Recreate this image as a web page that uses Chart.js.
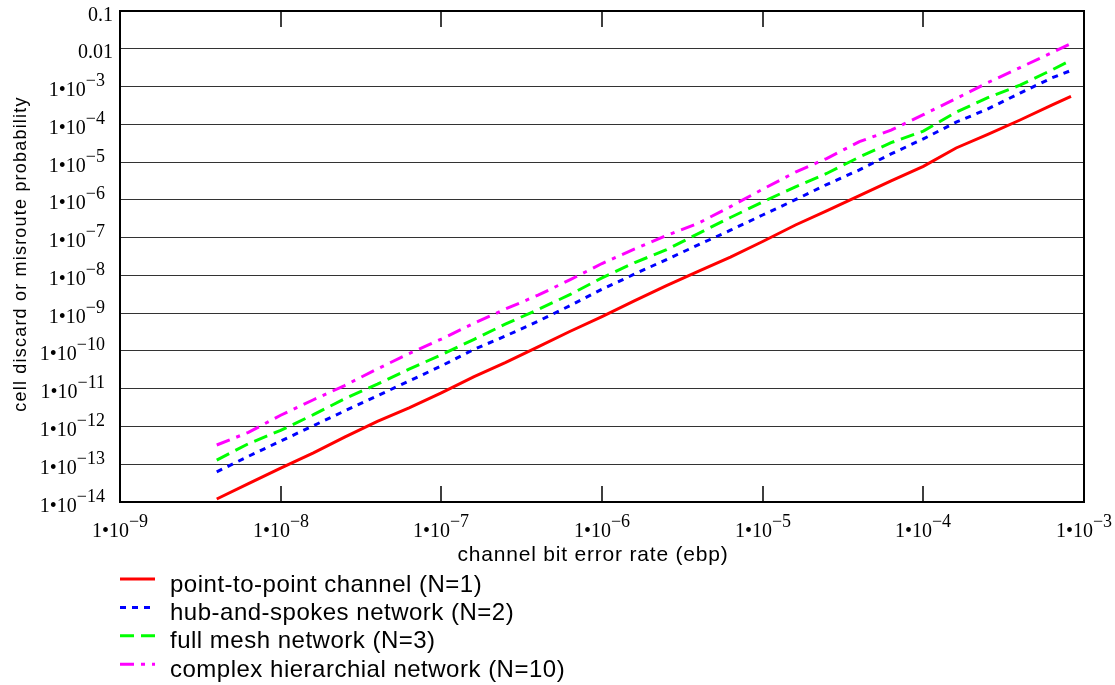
<!DOCTYPE html>
<html>
<head>
<meta charset="utf-8">
<script src="https://cdn.jsdelivr.net/npm/chart.js@4.4.1/dist/chart.umd.min.js"></script>
<style>
  html, body { margin: 0; padding: 0; background: #fff; }
</style>
</head>
<body>
<canvas id="c" width="1115" height="685"></canvas>
<script>
// channel bit error rate (x axis)
const ber = [4e-9, 6.3e-9, 1e-8, 1.6e-8, 2.5e-8, 4e-8, 6.3e-8, 1e-7, 1.6e-7, 2.5e-7,
             4e-7, 6.3e-7, 1e-6, 1.6e-6, 2.5e-6, 4e-6, 6.3e-6, 1e-5, 1.6e-5, 2.5e-5,
             4e-5, 6.3e-5, 1e-4, 1.6e-4, 2.5e-4, 4e-4, 6.3e-4, 8.3e-4];

// cell discard / misroute probability
const pointToPoint = [1.2e-14, 3.07e-14, 7.9e-14, 2.01e-13, 5.2e-13, 1.37e-12, 3.1e-12, 7.8e-12, 2.08e-11, 4.9e-11,
                      1.28e-10, 3.27e-10, 8.1e-10, 2.15e-9, 5.3e-9, 1.29e-8, 3.05e-8, 7.9e-8, 2.16e-7, 5.1e-7,
                      1.29e-6, 3.19e-6, 7.7e-6, 2.36e-5, 5.3e-5, 1.3e-4, 3.23e-4, 5.5e-4];
const hubSpokes = [6.3e-14, 1.62e-13, 4.1e-13, 1.05e-12, 2.57e-12, 6.5e-12, 1.6e-11, 4.0e-11, 1.1e-10, 2.47e-10,
                   6.1e-10, 1.57e-9, 4.3e-9, 1.09e-8, 2.59e-8, 6.5e-8, 1.57e-7, 3.97e-7, 1.01e-6, 2.54e-6,
                   6.2e-6, 1.65e-5, 4.1e-5, 1.14e-4, 2.51e-4, 6.7e-4, 1.69e-3, 2.66e-3];
const fullMesh = [1.29e-13, 3.5e-13, 7.9e-13, 2.05e-12, 5.4e-12, 1.32e-11, 3.3e-11, 7.9e-11, 2.03e-10, 5.1e-10,
                  1.25e-9, 3.08e-9, 8.6e-9, 2.19e-8, 4.7e-8, 1.3e-7, 3.41e-7, 8.8e-7, 2.22e-6, 4.99e-6,
                  1.36e-5, 3.26e-5, 6.6e-5, 2.09e-4, 5.0e-4, 1.09e-3, 2.74e-3, 4.98e-3];
const complexNet = [3.23e-13, 6.97e-13, 1.98e-12, 5.1e-12, 1.21e-11, 3.34e-11, 8.5e-11, 2.06e-10, 5.4e-10, 1.28e-9,
                    2.99e-9, 7.6e-9, 2.06e-8, 5.0e-8, 1.12e-7, 2.44e-7, 6.6e-7, 1.91e-6, 5.4e-6, 1.24e-5,
                    3.47e-5, 7.0e-5, 1.8e-4, 4.8e-4, 1.25e-3, 3.17e-3, 7.9e-3, 1.37e-2];

const seriesNames = ["point-to-point channel (N=1)", "hub-and-spokes network (N=2)",
                     "full mesh network (N=3)", "complex hierarchial network (N=10)"];

const xTicks = [1e-9, 1e-8, 1e-7, 1e-6, 1e-5, 1e-4, 1e-3];
const xTickLabels = [["1•10", "\u22129"], ["1•10", "\u22128"], ["1•10", "\u22127"], ["1•10", "\u22126"],
                     ["1•10", "\u22125"], ["1•10", "\u22124"], ["1•10", "\u22123"]];
const yTicks = [0.1, 0.01, 1e-3, 1e-4, 1e-5, 1e-6, 1e-7, 1e-8, 1e-9, 1e-10, 1e-11, 1e-12, 1e-13, 1e-14];
const yTickLabels = [["0.1", ""], ["0.01", ""], ["1•10", "\u22123"], ["1•10", "\u22124"], ["1•10", "\u22125"],
                     ["1•10", "\u22126"], ["1•10", "\u22127"], ["1•10", "\u22128"], ["1•10", "\u22129"],
                     ["1•10", "\u221210"], ["1•10", "\u221211"], ["1•10", "\u221212"], ["1•10", "\u221213"],
                     ["1•10", "\u221214"]];

const toPoints = arr => arr.map((v, i) => ({ x: ber[i], y: v }));

const SERIF = '"Liberation Serif", "Times New Roman", serif';
const SANS = '"Liberation Sans", Arial, sans-serif';

// label like 1•10^-5 : base text plus raised exponent
function drawPow(ctx, base, sup, x, y, align) {
  ctx.font = '20px ' + SERIF;
  const wb = ctx.measureText(base).width;
  ctx.font = '18px ' + SERIF;
  const ws = sup ? ctx.measureText(sup).width : 0;
  let x0 = x;
  if (align === 'center') x0 = x - (wb + ws) / 2;
  if (align === 'right') x0 = x - wb - ws;
  ctx.textAlign = 'left';
  ctx.textBaseline = 'alphabetic';
  ctx.font = '20px ' + SERIF;
  ctx.fillText(base, x0, y);
  if (sup) {
    ctx.font = '18px ' + SERIF;
    ctx.fillText(sup, x0 + wb, y - 10);
  }
}

const framePlugin = {
  id: 'framePlugin',
  afterDraw(chart) {
    const { ctx, chartArea: a } = chart;
    const xs = chart.scales.x, ys = chart.scales.y;
    ctx.save();
    ctx.fillStyle = '#000';

    // box
    ctx.strokeStyle = '#000';
    ctx.lineWidth = 2;
    ctx.strokeRect(a.left, a.top, a.right - a.left, a.bottom - a.top);

    // x tick marks, inside, top and bottom
    ctx.lineWidth = 1.5;
    xTicks.forEach((v, i) => {
      const px = Math.round(xs.getPixelForValue(v));
      if (i > 0 && i < xTicks.length - 1) {
        ctx.beginPath();
        ctx.moveTo(px, a.bottom); ctx.lineTo(px, a.bottom - 16);
        ctx.moveTo(px, a.top); ctx.lineTo(px, a.top + 16);
        ctx.stroke();
      }
      drawPow(ctx, xTickLabels[i][0], xTickLabels[i][1], px, a.bottom + 35, 'center');
    });

    // y tick labels
    yTicks.forEach((v, i) => {
      const py = ys.getPixelForValue(v);
      const lab = yTickLabels[i];
      drawPow(ctx, lab[0], lab[1], lab[1] ? a.left - 15 : a.left - 7, py + 9.5, 'right');
    });

    // axis titles
    ctx.font = '21px ' + SANS;
    ctx.letterSpacing = '0.8px';
    ctx.textAlign = 'center';
    ctx.textBaseline = 'middle';
    ctx.fillText('channel bit error rate (ebp)', 593, a.bottom + 53);

    ctx.save();
    ctx.translate(21, 254);
    ctx.rotate(-Math.PI / 2);
    ctx.font = '18px ' + SANS;
    ctx.letterSpacing = '1.2px';
    ctx.fillText('cell discard or misroute probability', 0, 0);
    ctx.restore();

    // legend
    ctx.letterSpacing = '0.5px';
    chart.data.datasets.forEach((ds, i) => {
      const ly = 579 + i * 28.4;
      ctx.strokeStyle = ds.borderColor;
      ctx.lineWidth = 3;
      ctx.setLineDash(ds.borderDash || []);
      ctx.beginPath();
      ctx.moveTo(120, ly); ctx.lineTo(155, ly);
      ctx.stroke();
      ctx.setLineDash([]);
      ctx.font = '24px ' + SANS;
      ctx.textAlign = 'left';
      ctx.textBaseline = 'middle';
      ctx.fillStyle = '#000';
      ctx.fillText(ds.label, 170, ly + 6);
    });
    ctx.restore();
  }
};

new Chart(document.getElementById('c'), {
  type: 'line',
  data: {
    datasets: [
      { label: seriesNames[0], data: toPoints(pointToPoint), borderColor: '#ff0000', borderWidth: 3, borderDash: [] },
      { label: seriesNames[1], data: toPoints(hubSpokes), borderColor: '#0000ff', borderWidth: 3, borderDash: [6, 6] },
      { label: seriesNames[2], data: toPoints(fullMesh), borderColor: '#00ff00', borderWidth: 3, borderDash: [14, 7] },
      { label: seriesNames[3], data: toPoints(complexNet), borderColor: '#ff00ff', borderWidth: 3, borderDash: [14, 7, 4, 7] }
    ]
  },
  options: {
    responsive: false,
    animation: false,
    layout: { padding: { left: 120, top: 11, right: 31, bottom: 183 } },
    elements: { point: { radius: 0 }, line: { tension: 0 } },
    plugins: { legend: { display: false }, tooltip: { enabled: false } },
    scales: {
      x: {
        type: 'logarithmic', min: 1e-9, max: 1e-3, display: false
      },
      y: {
        type: 'logarithmic', min: 1e-14, max: 0.1,
        afterBuildTicks: s => { s.ticks = yTicks.map(v => ({ value: v })); },
        ticks: { display: false },
        border: { display: false },
        grid: { color: '#333', lineWidth: 1, drawTicks: false }
      }
    }
  },
  plugins: [framePlugin]
});
</script>
</body>
</html>
